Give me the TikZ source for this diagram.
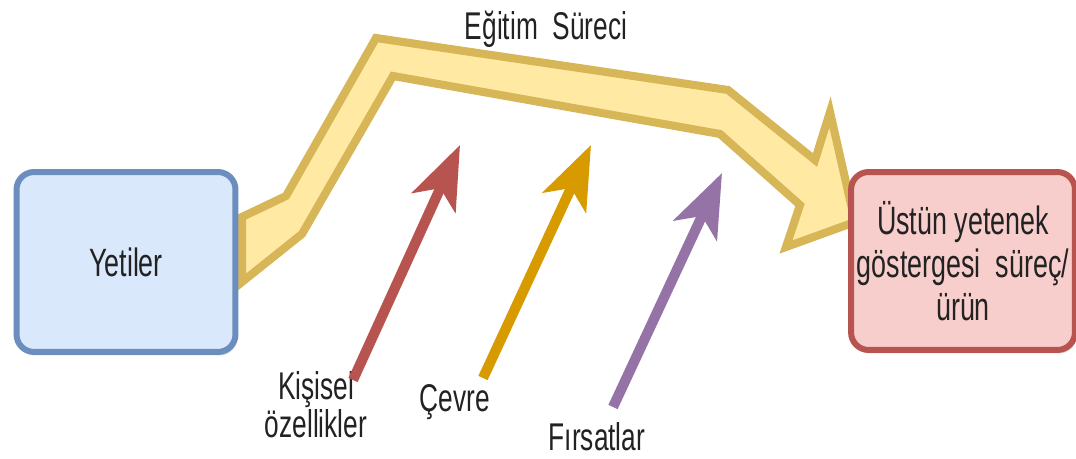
\documentclass[tikz,border=0pt]{standalone}
\usepackage{fontspec}
\setmainfont{Liberation Sans}[FakeStretch=0.68]
\usepackage{xcolor}
\usetikzlibrary{arrows.meta,shadows}

\definecolor{blueFill}{HTML}{DAE8FC}
\definecolor{blueLine}{HTML}{6C8EBF}
\definecolor{redFill}{HTML}{F8CECC}
\definecolor{redLine}{HTML}{B85450}
\definecolor{bandFill}{HTML}{FFE9A3}
\definecolor{bandLine}{HTML}{D6B656}
\definecolor{orangeLine}{HTML}{D79B00}
\definecolor{purpleLine}{HTML}{9673A6}
\definecolor{textGray}{HTML}{222222}

\begin{document}
\begin{tikzpicture}[
    x=0.02cm, y=-0.02cm, >=Stealth,
    box/.style={rectangle, rounded corners=10pt, line width=3.4pt,
      minimum width=4.38cm, minimum height=3.6cm, align=center,
      text=textGray, font=\fontsize{22.5}{24.5}\selectfont,
      drop shadow={shadow xshift=1pt, shadow yshift=-2pt, opacity=0.3, fill=gray}},
    caption/.style={text=textGray, align=center, font=\fontsize{22}{20}\selectfont},
    push/.style={line width=5.8pt, -{Stealth[length=36pt, width=27pt, inset=9pt]}}
  ]
    \useasboundingbox (0,0) rectangle (1076,459);

    % egitim sureci band
    \draw[fill=bandFill, draw=bandLine, line width=4.6pt]
      (242,217) -- (286,196) -- (376,38) -- (728,90) -- (815,160)
      -- (830,112) -- (855,222) -- (786,247) -- (800,205)
      -- (720,134) -- (393,76) -- (302,234) -- (242,282) -- cycle;
    \node[caption, anchor=base] (surec) at (546,40) {Eğitim~~Süreci};

    \node[box, fill=blueFill, draw=blueLine] (yetiler) at (126,262) {Yetiler};
    \node[box, fill=redFill, draw=redLine, minimum width=4.32cm, minimum height=3.56cm]
      (urun) at (963,261) {Üstün yetenek\\göstergesi~~süreç/\\ürün};

    % etkenler
    \node[caption] (kisisel) at (316,405) {Kişisel\\özellikler};
    \node[caption] (cevre) at (455,402) {Çevre};
    \node[caption] (firsat) at (597,437) {Fırsatlar};

    \coordinate (kisiselUc) at (460,145);
    \coordinate (cevreUc) at (591,145);
    \coordinate (firsatUc) at (722,173);

    \draw[push, redLine] (353,380) -- (kisiselUc);
    \draw[push, orangeLine] (483,378) -- (cevreUc);
    \draw[push, purpleLine] (613,407) -- (firsatUc);
  \end{tikzpicture}
\end{document}
